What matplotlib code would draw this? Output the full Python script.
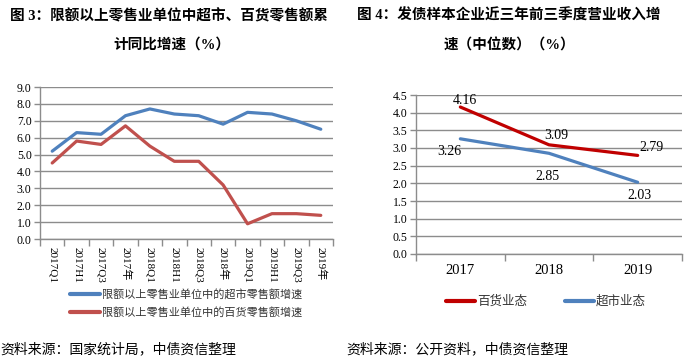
import numpy as np
import matplotlib.pyplot as plt
from matplotlib.lines import Line2D

plt.rcParams['font.family'] = ['Liberation Serif', 'Noto Sans CJK SC']
plt.rcParams['axes.unicode_minus'] = False

# left chart data
periods = ['2017Q1', '2017H1', '2017Q3', '2017年', '2018Q1', '2018H1',
           '2018Q3', '2018年', '2019Q1', '2019H1', '2019Q3', '2019年']
supermarket = [5.2, 6.3, 6.2, 7.3, 7.7, 7.4, 7.3, 6.8, 7.5, 7.4, 7.0, 6.5]
dept_store = [4.5, 5.8, 5.6, 6.7, 5.5, 4.6, 4.6, 3.2, 0.9, 1.5, 1.5, 1.4]

# right chart data
years = ['2017', '2018', '2019']
dept_median = [4.16, 3.09, 2.79]
super_median = [3.26, 2.85, 2.03]

W, H = 698, 362
fig = plt.figure(figsize=(W / 100, H / 100), dpi=100)

grid_c = '#8c8c8c'
cjk = ['Noto Sans CJK SC', 'DejaVu Sans']


def px_axes(x0, y0, x1, y1):
    return fig.add_axes([x0 / W, 1 - y1 / H, (x1 - x0) / W, (y1 - y0) / H])


def style_axes(ax, n, ymax, ystep, fmt):
    ax.set_xlim(-0.5, n - 0.5)
    ax.set_ylim(0, ymax)
    ax.set_yticks(np.arange(0, ymax + 1e-9, ystep))
    ax.set_yticklabels([fmt.format(v) for v in np.arange(0, ymax + 1e-9, ystep)])
    ax.set_xticks(np.arange(n))
    ax.set_xticks(np.arange(n + 1) - 0.5, minor=True)
    ax.tick_params(axis='x', which='major', length=0)
    ax.tick_params(axis='x', which='minor', length=5, color=grid_c, width=1)
    ax.tick_params(axis='y', length=4, color=grid_c, width=1, pad=2)
    ax.grid(axis='y', color=grid_c, lw=1)
    ax.set_axisbelow(True)
    for s in ['top', 'right']:
        ax.spines[s].set_visible(False)
    for s in ['left', 'bottom']:
        ax.spines[s].set_color(grid_c)
        ax.spines[s].set_linewidth(1)


# ---- left chart ----
ax1 = px_axes(40, 87, 333, 239)
x1 = np.arange(len(periods))
ax1.plot(x1, supermarket, color='#4F81BD', lw=2.3, solid_capstyle='round')
ax1.plot(x1, dept_store, color='#C0504D', lw=2.3, solid_capstyle='round')
style_axes(ax1, len(periods), 9.0, 1.0, '{:.1f}')
ax1.set_xticklabels(periods, rotation=270, fontsize=8)
ax1.tick_params(axis='x', pad=6)
ax1.tick_params(axis='y', labelsize=8.5)

# ---- right chart ----
ax2 = px_axes(416, 95, 682, 254)
x2 = np.arange(len(years))
ax2.plot(x2, dept_median, color='#C00000', lw=2.3, solid_capstyle='round')
ax2.plot(x2, super_median, color='#4F81BD', lw=2.3, solid_capstyle='round')
style_axes(ax2, len(years), 4.5, 0.5, '{:.1f}')
ax2.set_xticklabels(years, fontsize=10.5)
ax2.tick_params(axis='x', pad=7)
ax2.tick_params(axis='y', labelsize=8.5)

red_off = [(3.6, 4.8), (5, 7), (10, 6)]
blue_off = [(-8, -9), (-1, -17), (1, -9.5)]
for i in range(len(years)):
    ax2.annotate(f'{dept_median[i]:.2f}', (x2[i], dept_median[i]), xytext=red_off[i],
                 textcoords='offset points', ha='center', va='center', fontsize=10)
    ax2.annotate(f'{super_median[i]:.2f}', (x2[i], super_median[i]), xytext=blue_off[i],
                 textcoords='offset points', ha='center', va='center', fontsize=10)

# ---- titles ----
fig.text(10 / W, 1 - 16 / H, '图 3：限额以上零售业单位中超市、百货零售额累', fontsize=10.5,
         fontweight='bold', ha='left', va='center')
fig.text(172 / W, 1 - 45 / H, '计同比增速（%）', fontsize=10.5,
         fontweight='bold', ha='center', va='center')
fig.text(357 / W, 1 - 16 / H, '图 4：发债样本企业近三年前三季度营业收入增', fontsize=10.5,
         fontweight='bold', ha='left', va='center')
fig.text(509 / W, 1 - 45 / H, '速（中位数）（%）', fontsize=10.5,
         fontweight='bold', ha='center', va='center')


# ---- legends ----
def legend_item(x0, x1, y, color, label, size):
    fig.add_artist(Line2D([x0 / W, x1 / W], [1 - y / H, 1 - y / H], color=color,
                          lw=3, solid_capstyle='round', transform=fig.transFigure))
    fig.text((x1 + 2) / W, 1 - y / H, label, fontsize=size, family=cjk,
             ha='left', va='center', color='#333333')


legend_item(70, 100, 294, '#4F81BD', '限额以上零售业单位中的超市零售额增速', 8)
legend_item(70, 100, 312, '#C0504D', '限额以上零售业单位中的百货零售额增速', 8)
legend_item(446, 475, 301, '#C00000', '百货业态', 9)
legend_item(565, 594, 301, '#4F81BD', '超市业态', 9)

# ---- sources ----
fig.text(0, 1 - 349 / H, '资料来源：国家统计局，中债资信整理', fontsize=10,
         family=cjk, ha='left', va='center')
fig.text(346 / W, 1 - 349 / H, '资料来源：公开资料，中债资信整理', fontsize=10,
         family=cjk, ha='left', va='center')

fig.savefig('out.png', dpi=100)
